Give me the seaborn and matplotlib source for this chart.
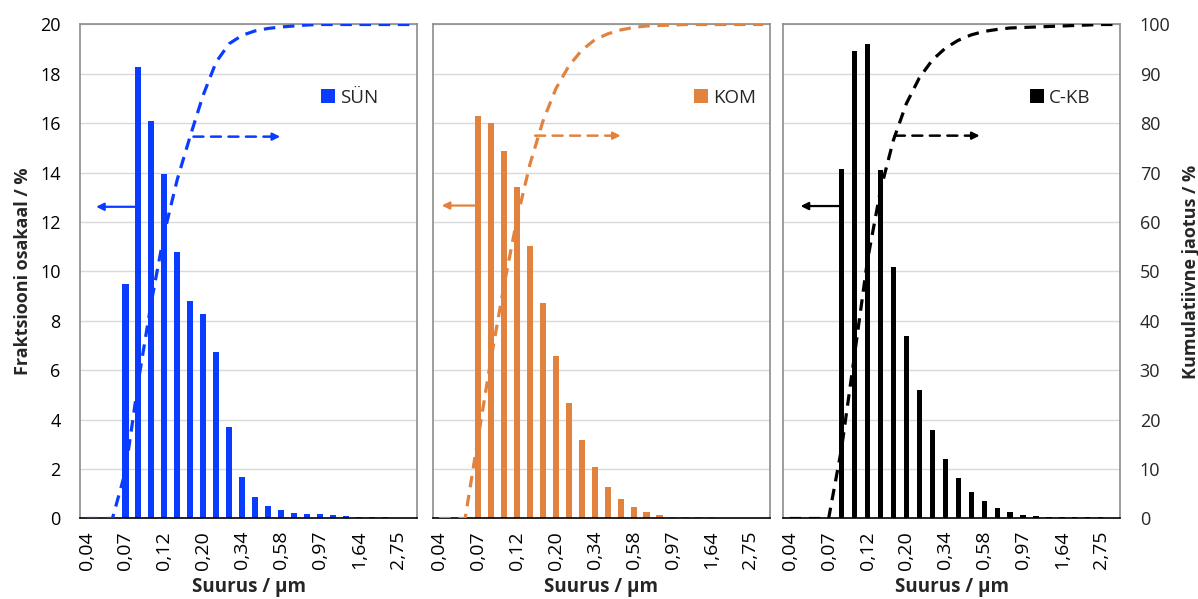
import numpy as np
import pandas as pd
import matplotlib
matplotlib.use("Agg")
import matplotlib.pyplot as plt
from matplotlib.patches import Patch
import seaborn as sns

# ---------------- data ----------------
sizes = ["0,04", "0,05", "0,06", "0,07", "0,08", "0,10", "0,12", "0,14", "0,17",
         "0,20", "0,24", "0,29", "0,34", "0,41", "0,49", "0,58", "0,69", "0,82",
         "0,97", "1,16", "1,38", "1,64", "1,95", "2,32", "2,75", "3,27"]
tick_labels = ["0,04", "0,07", "0,12", "0,20", "0,34", "0,58", "0,97", "1,64", "2,75"]

sun = [0, 0, 0, 9.49, 18.26, 16.09, 13.93, 10.79, 8.82, 8.29, 6.73, 3.69, 1.69,
       0.88, 0.50, 0.35, 0.24, 0.19, 0.17, 0.13, 0.10, 0.08, 0.08, 0.08, 0, 0]
sun_cum = [0, 0, 0, 9.5, 27.8, 43.8, 57.8, 68.6, 77.4, 85.7, 92.4, 96.1, 97.8,
           98.7, 99.2, 99.5, 99.7, 99.9, 100, 100, 100, 100, 100, 100, 100, 100]

kom = [0, 0, 0, 16.29, 16.02, 14.89, 13.44, 11.02, 8.71, 6.59, 4.66, 3.16, 2.08,
       1.28, 0.78, 0.47, 0.27, 0.14, 0.08, 0.08, 0.08, 0.08, 0, 0, 0, 0]
kom_cum = [0, 0, 0, 16.3, 32.3, 47.2, 60.6, 71.7, 80.4, 87.0, 91.6, 94.8, 96.9,
           98.1, 98.9, 99.4, 99.7, 99.8, 99.9, 100, 100, 100, 100, 100, 100, 100]

ckb = [0, 0, 0, 0, 14.15, 18.94, 19.21, 14.11, 10.19, 7.40, 5.20, 3.58, 2.39,
       1.65, 1.07, 0.70, 0.43, 0.27, 0.14, 0.12, 0.08, 0.07, 0.07, 0.07, 0.07, 0]
ckb_cum = [0, 0, 0, 0, 14.2, 33.1, 52.3, 66.4, 76.6, 84.0, 89.2, 92.8, 95.2,
           96.8, 97.9, 98.6, 99.0, 99.3, 99.4, 99.5, 99.6, 99.7, 99.8, 99.9, 100, 100]

series_names = ["SÜN", "KOM", "C-KB"]
colors = ["#0a3cff", "#e2823f", "#000000"]

# ---------------- style ----------------
sns.set_theme(style="white")
plt.rcParams["font.family"] = ["Open Sans", "DejaVu Sans"]

fig = plt.figure(figsize=(11.98, 5.99), dpi=100)

lefts = [0.0668, 0.3612, 0.6538]
width = 0.2813
bottom = 0.1344
height = 0.8247

panels = [
    (sun, sun_cum, 0.48, (3.98, 0.74, 12.62), (8.25, 14.94, 15.46)),
    (kom, kom_cum, 0.48, (2.77, 0.20, 12.67), (7.40, 14.00, 15.50)),
    (ckb, ckb_cum, 0.40, (3.87, 0.84, 12.65), (8.11, 14.65, 15.50)),
]
legend_x = [0.715, 0.775, 0.733]

pos = np.arange(len(sizes))
for i, (vals, cum, bw, larr, rarr) in enumerate(panels):
    ax = fig.add_axes([lefts[i], bottom, width, height])
    df = pd.DataFrame({"size": sizes, "value": vals})
    sns.barplot(data=df, x="size", y="value", order=sizes, color=colors[i],
                width=bw, saturation=1, ax=ax, zorder=2, linewidth=0)
    ax.set_xlim(-0.5, len(sizes) - 0.5)
    ax.set_ylim(0, 20)
    ax.set_yticks(np.arange(0, 21, 2))
    ax.yaxis.grid(True, color="#d9d9d9", lw=1.0, zorder=0)
    ax.set_axisbelow(True)
    ax.set_xticks(pos[::3])
    ax.set_xticklabels(tick_labels, rotation=90)
    ax.tick_params(axis="y", length=0, labelsize=13, colors="#000000", pad=14)
    ax.tick_params(axis="x", length=0, labelsize=14, colors="#000000", pad=9)
    ax.set_xlabel("Suurus / µm", fontsize=13.5, fontweight="bold")
    ax.xaxis.set_label_coords(0.5, -0.118)
    ax.xaxis.label.set_va("top")
    if i == 0:
        ax.set_ylabel("Fraktsiooni osakaal / %", fontsize=13, fontweight="bold", labelpad=6)
    else:
        ax.set_ylabel("")
        ax.set_yticklabels([])
    for s in ["top", "left", "right"]:
        ax.spines[s].set_color("#8c8c8c")
        ax.spines[s].set_linewidth(1.2)
    ax.spines["bottom"].set_color("#000000")
    ax.spines["bottom"].set_linewidth(1.2)

    ax2 = ax.twinx()
    sns.lineplot(x=pos, y=cum, ax=ax2, color=colors[i], lw=2.3,
                 linestyle=(0, (3.6, 2.4)), zorder=3)
    ax2.set_ylim(0, 100)
    ax2.set_yticks(np.arange(0, 101, 10))
    ax2.grid(False)
    ax2.tick_params(axis="y", length=0, labelsize=13, pad=14)
    for s in ax2.spines.values():
        s.set_visible(False)
    if i == 2:
        ax2.set_ylabel("Kumulatiivne jaotus / %", fontsize=13, fontweight="bold",
                       labelpad=8, rotation=90)
    else:
        ax2.set_yticklabels([])
        ax2.set_ylabel("")

    # left-pointing arrow (bars -> left axis)
    ax.annotate("", xy=(larr[1], larr[2]), xytext=(larr[0], larr[2]),
                arrowprops=dict(arrowstyle="-|>", color=colors[i], lw=1.6,
                                mutation_scale=11, shrinkA=0, shrinkB=0),
                zorder=4)
    # right-pointing dashed arrow (line -> right axis)
    ax.annotate("", xy=(rarr[1] - 0.6, rarr[2]), xytext=(rarr[0], rarr[2]),
                arrowprops=dict(arrowstyle="-", color=colors[i], lw=1.8,
                                linestyle=(0, (4, 3)), shrinkA=0, shrinkB=0),
                zorder=4)
    ax.annotate("", xy=(rarr[1], rarr[2]), xytext=(rarr[1] - 0.7, rarr[2]),
                arrowprops=dict(arrowstyle="-|>", color=colors[i], lw=1.6,
                                mutation_scale=11, shrinkA=0, shrinkB=0),
                zorder=4)

    handle = Patch(facecolor=colors[i], edgecolor="none")
    ax2.legend([handle], [series_names[i]], loc="center left",
               bbox_to_anchor=(legend_x[i], 0.852), frameon=False,
               handlelength=0.75, handleheight=0.75, handletextpad=0.25,
               borderpad=0, borderaxespad=0, fontsize=13.5)

fig.savefig("out.png", dpi=100)
